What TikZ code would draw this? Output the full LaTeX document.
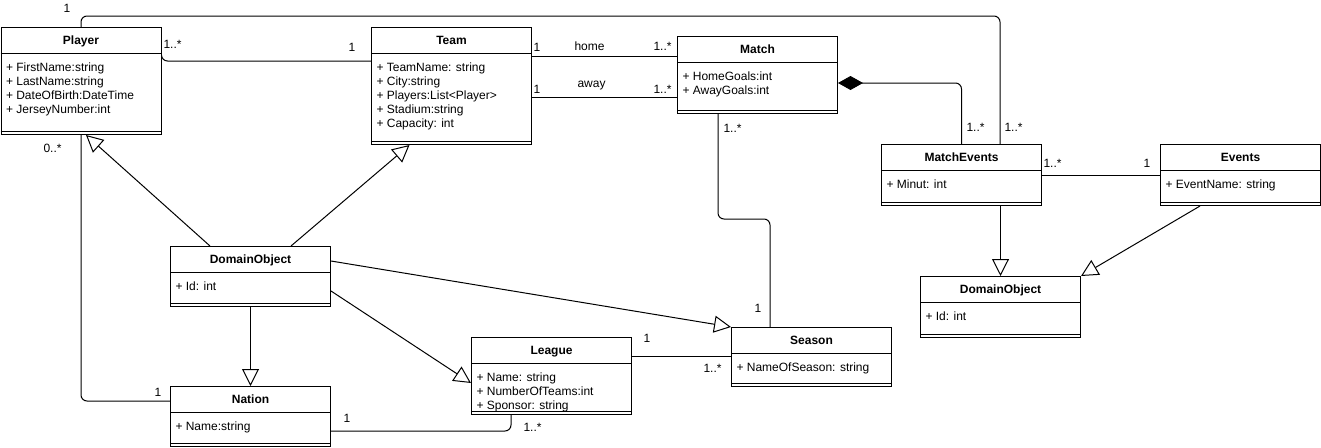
\documentclass[tikz,border=0pt]{standalone}
\usepackage{fontspec}
\setmainfont{Liberation Sans}
\usetikzlibrary{arrows.meta,calc}

\newcommand\umlclass[5]{%
  \node[classbox, minimum height=#3] (#1) at (#2) {};
  \draw ($(#1.north west)+(0,26)$) -- ($(#1.north east)+(0,26)$);
  \draw ($(#1.south west)+(0,-4)$) -- ($(#1.south east)+(0,-4)$);
  \node[classname] (#1-name) at ($(#1.north)+(0,17.5)$) {#4};
  \node[classattr] (#1-attr) at ($(#1.north west)+(5,35)$) {#5};
}

\begin{document}
\begin{tikzpicture}[x=1pt, y=-1pt, line width=1pt,
    classbox/.style={draw, anchor=north west, minimum width=160, inner sep=0},
    classname/.style={anchor=base, inner sep=0, font=\fontsize{12}{14}\selectfont\bfseries},
    classattr/.style={anchor=north west, inner sep=0, align=left, font=\fontsize{12}{14}\selectfont},
    mult/.style={anchor=west, inner sep=0, font=\fontsize{12}{14}\selectfont},
    inherit/.style={-{Triangle[open, length=17pt, width=17pt]}},
    compose/.style={{Diamond[length=25pt, width=14pt]}-}]
  \useasboundingbox (0,0) rectangle (1321,447);

  \umlclass{player}{0.5,27}{107}{Player}{+ FirstName:string\\+ LastName:string\\+ DateOfBirth:DateTime\\+ JerseyNumber:int}
  \umlclass{team}{371,27}{117}{Team}{+ TeamName: string\\+ City:string\\+ Players:List<Player>\\+ Stadium:string\\+ Capacity: int}
  \umlclass{match}{677,36}{77}{Match}{+ HomeGoals:int\\+ AwayGoals:int}
  \umlclass{mevents}{881,144}{61}{MatchEvents}{+ Minut: int}
  \umlclass{events}{1160,144}{61}{Events}{+ EventName: string}
  \umlclass{dobjr}{920,276}{61}{DomainObject}{+ Id: int}
  \umlclass{dobjl}{170,246}{60}{DomainObject}{+ Id: int}
  \umlclass{nation}{170,386}{60}{Nation}{+ Name:string}
  \umlclass{league}{471,337}{77}{League}{+ Name: string\\+ NumberOfTeams:int\\+ Sponsor: string}
  \umlclass{season}{731,327}{59}{Season}{+ NameOfSeason: string}

  \begin{scope}[rounded corners=6]
    \draw (player.north) -- ++(0,-11) -| ($(mevents.north west)+(119,0)$);
    \draw ($(player.north east)+(0,30)$) |- ($(team.north west)+(0,34)$);
    \draw ($(team.north east)+(0,29)$) -- ($(match.north west)+(0,20)$);
    \draw ($(team.north east)+(0,70)$) -- ($(match.north west)+(0,61)$);
    \draw ($(match.south west)+(41,0)$) -- ++(0,105) -| ($(season.north west)+(39,0)$);
    \draw[compose] ($(match.north east)+(0,47)$) -| (mevents.north);
    \draw (mevents.east) -- (events.west);
    \draw (player.south) |- ($(nation.north west)+(0,15)$);
    \draw ($(nation.north east)+(0,45)$) -| ($(league.south west)+(40,0)$);
    \draw ($(league.north east)+(0,19)$) -- ($(season.north west)+(0,29)$);
  \end{scope}

  \begin{scope}[inherit]
    \draw ($(dobjl.north west)+(40,0)$) -- ($(player.south)+(5,0)$);
    \draw ($(dobjl.north west)+(121,0)$) -- ($(team.south)+(-42,0)$);
    \draw ($(dobjl.north east)+(0,15)$) -- (season.north west);
    \draw ($(dobjl.north east)+(0,45)$) -- ($(league.north west)+(0,46)$);
    \draw (dobjl.south) -- (nation.north);
    \draw (mevents.south -| dobjr.north) -- (dobjr.north);
    \draw ($(events.south west)+(40,0)$) -- (dobjr.north east);
  \end{scope}

  \node[mult] (ptop) at (63,8) {1};
  \node[mult] (pright) at (163,44) {1..*};
  \node[mult] (tleft) at (348,47) {1};
  \node[mult] (thome) at (533,47) {1};
  \node[mult] (home) at (574,46) {home};
  \node[mult] (mhome) at (653,46) {1..*};
  \node[mult] (taway) at (533,89) {1};
  \node[mult] (away) at (577,86) {away};
  \node[mult] (maway) at (653,89) {1..*};
  \node[mult] (mbottom) at (723,128) {1..*};
  \node[mult] (stop) at (754,308) {1};
  \node[mult] (mecomp) at (966,127) {1..*};
  \node[mult] (meplayer) at (1004,127) {1..*};
  \node[mult] (meright) at (1043,163) {1..*};
  \node[mult] (evleft) at (1143,163) {1};
  \node[mult] (pbottom) at (43,148) {0..*};
  \node[mult] (nleft) at (154,392) {1};
  \node[mult] (nright) at (343,418) {1};
  \node[mult] (lbottom) at (523,427) {1..*};
  \node[mult] (lright) at (643,338) {1};
  \node[mult] (sleft) at (703,368) {1..*};
\end{tikzpicture}
\end{document}
